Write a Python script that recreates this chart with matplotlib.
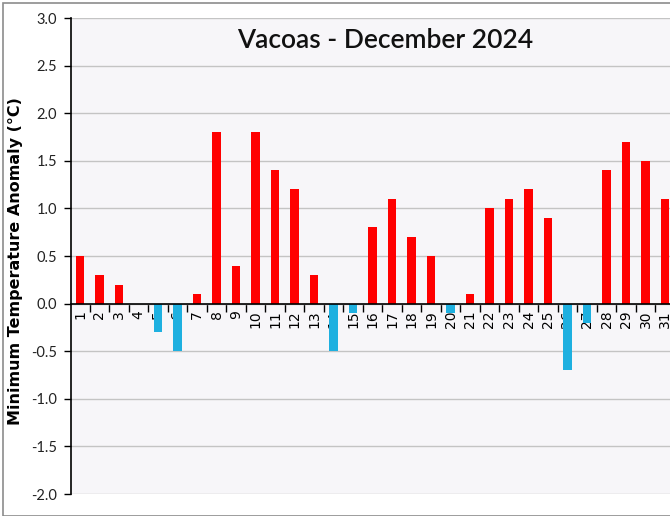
import numpy as np
import matplotlib
matplotlib.use('Agg')
import matplotlib.pyplot as plt
from matplotlib.ticker import MultipleLocator, FixedLocator, FormatStrFormatter

days = list(range(1, 32))
anomaly = [0.5, 0.3, 0.2, 0.0, -0.3, -0.5, 0.1, 1.8, 0.4, 1.8,
           1.4, 1.2, 0.3, -0.5, -0.1, 0.8, 1.1, 0.7, 0.5, -0.1,
           0.1, 1.0, 1.1, 1.2, 0.9, -0.7, -0.2, 1.4, 1.7, 1.5, 1.1]
title = "Vacoas - December 2024"
ylabel = "Minimum Temperature Anomaly (\u00b0C)"

plt.rcParams["font.family"] = ["Lato", "DejaVu Sans"]

fig = plt.figure(figsize=(6.7, 5.16), dpi=100)
fig.patch.set_facecolor('white')
# thin grey frame around the whole chart
fig.add_artist(plt.Rectangle((0.004, 0.0), 1.2, 0.994, transform=fig.transFigure,
                             fill=False, edgecolor='#8c8c8c', linewidth=1.2))

ax = fig.add_axes([71 / 670, 1 - 494 / 516, 1 - 71 / 670, (494 - 18) / 516])
ax.set_facecolor('#f7f6f9')

colors = ['#ff0000' if v >= 0 else '#1eb0e0' for v in anomaly]
ax.bar(days, anomaly, width=0.42, color=colors, zorder=3)

ax.set_ylim(-2.0, 3.0)
ax.set_xlim(1 - 9 / 19.5, 31 + 5 / 19.5)
ax.yaxis.set_major_locator(MultipleLocator(0.5))
ax.yaxis.set_major_formatter(FormatStrFormatter('%.1f'))
ax.grid(axis='y', color='#c4c4c4', linewidth=1.0, zorder=0)

for s in ['top', 'right']:
    ax.spines[s].set_visible(False)
ax.spines['left'].set_color('black')
ax.spines['left'].set_linewidth(1.2)
ax.spines['bottom'].set_position(('data', 0))
ax.spines['bottom'].set_color('black')
ax.spines['bottom'].set_linewidth(1.2)
ax.spines['bottom'].set_zorder(4)

ax.xaxis.set_major_locator(FixedLocator(days))
ax.set_xticklabels([str(d) for d in days], rotation=90, fontsize=10,
                   family=['DejaVu Sans'], va='top')
ax.tick_params(axis='x', which='major', length=0, pad=5)
ax.xaxis.set_minor_locator(FixedLocator([d + 0.5 for d in range(0, 31)]))
ax.tick_params(axis='x', which='minor', length=6, width=1.0, direction='out')
ax.tick_params(axis='y', length=5, width=1.0, labelsize=10.5, pad=5, colors='black')
for lbl in ax.get_yticklabels():
    lbl.set_color('#222222')

ax.set_ylabel(ylabel, fontsize=11.5, fontweight='bold', family=['DejaVu Sans'])
ax.yaxis.set_label_coords(-48 / 599, (494 - 261) / 476)
ax.text((385 - 71) / 599, 1 - (40 - 18) / 476, title, transform=ax.transAxes,
        ha='center', va='center', fontsize=19, fontweight='semibold',
        family=['Lato'], color='#111111')

fig.savefig('out.png', dpi=100)
